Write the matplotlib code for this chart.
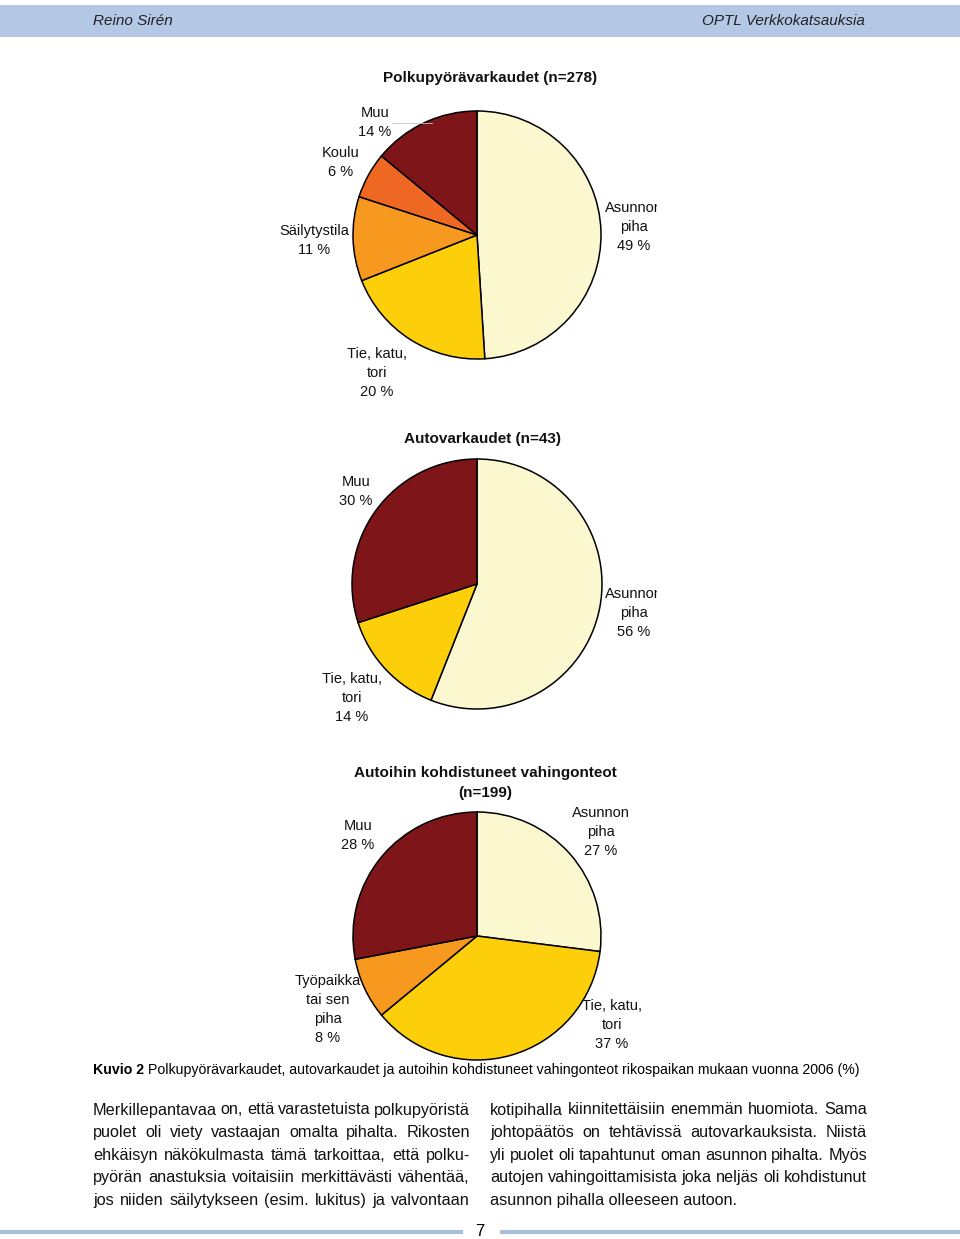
import matplotlib
matplotlib.use("Agg")
import matplotlib.pyplot as plt
from matplotlib.patches import Rectangle
from matplotlib.transforms import Bbox

W, H = 960, 1239

# pie data (clockwise from 12 o'clock)
bike_labels = ["Asunnon piha", "Tie, katu, tori", "Säilytystila", "Koulu", "Muu"]
bike_values = [49, 20, 11, 6, 14]
car_labels = ["Asunnon piha", "Tie, katu, tori", "Muu"]
car_values = [56, 14, 30]
dmg_labels = ["Asunnon piha", "Tie, katu, tori", "Työpaikka tai sen piha", "Muu"]
dmg_values = [27, 37, 8, 28]

colors = {
    "Asunnon piha": "#FBF7CF",
    "Tie, katu, tori": "#FDCF0B",
    "Säilytystila": "#F7991F",
    "Työpaikka tai sen piha": "#F7991F",
    "Koulu": "#EF6823",
    "Muu": "#7E1518",
}

left_text = [
    "Merkillepantavaa on, että varastetuista polkupyöristä",
    "puolet oli viety vastaajan omalta pihalta. Rikosten",
    "ehkäisyn näkökulmasta tämä tarkoittaa, että polku-",
    "pyörän anastuksia voitaisiin merkittävästi vähentää,",
    "jos niiden säilytykseen (esim. lukitus) ja valvontaan",
]
right_text = [
    "kotipihalla kiinnitettäisiin enemmän huomiota. Sama",
    "johtopäätös on tehtävissä autovarkauksista. Niistä",
    "yli puolet oli tapahtunut oman asunnon pihalta. Myös",
    "autojen vahingoittamisista joka neljäs oli kohdistunut",
    "asunnon pihalla olleeseen autoon.",
]

plt.rcParams["font.family"] = ["Liberation Sans", "DejaVu Sans"]

fig = plt.figure(figsize=(W / 100, H / 100), dpi=100)
fig.patch.set_facecolor("white")


def add_pie(cx, cy, r, labels, values):
    box = r * 1.12
    ax = fig.add_axes([(cx - box) / W, (H - cy - box) / H, 2 * box / W, 2 * box / H])
    ax.pie(values, colors=[colors[l] for l in labels], startangle=90,
           counterclock=False, radius=1,
           wedgeprops=dict(edgecolor="black", linewidth=1.1))
    ax.set_xlim(-1.12, 1.12)
    ax.set_ylim(-1.12, 1.12)
    ax.axis("off")
    return ax


add_pie(477, 235, 124, bike_labels, bike_values)
add_pie(477, 584, 125, car_labels, car_values)
add_pie(477, 936, 124, dmg_labels, dmg_values)

ov = fig.add_axes([0, 0, 1, 1])
ov.set_xlim(0, W)
ov.set_ylim(H, 0)
ov.axis("off")
ov.patch.set_alpha(0)

# header bar
ov.add_patch(Rectangle((0, 5), W, 32, facecolor="#B4C8E6", edgecolor="none"))
ov.text(93, 21, "Reino Sirén", style="italic", fontsize=11,
        ha="left", va="center", color="#222222")
ov.text(865, 21, "OPTL Verkkokatsauksia", style="italic", fontsize=11,
        ha="right", va="center", color="#222222")

# footer
ov.add_patch(Rectangle((0, 1230), 463, 4, facecolor="#A8BEDC", edgecolor="none"))
ov.add_patch(Rectangle((500, 1230), 460, 4, facecolor="#A8BEDC", edgecolor="none"))
ov.text(480, 1231, "7", fontsize=12, ha="center", va="center")

# titles
tkw = dict(fontsize=11, fontweight="bold", ha="center", va="center", color="#111111")
ov.text(490, 78, "Polkupyörävarkaudet (n=278)", **tkw)
ov.text(483, 439, "Autovarkaudet (n=43)", **tkw)
ov.text(485, 773, "Autoihin kohdistuneet vahingonteot", **tkw)
ov.text(485, 793, "(n=199)", **tkw)

# pie labels
lkw = dict(fontsize=10.5, ha="center", va="center", color="#111111")


def label(x, y0, lines, clip_x=None):
    for i, s in enumerate(lines):
        t = ov.text(x, y0 + i * 19, s, **lkw)
        if clip_x is not None:
            t.set_clip_on(True)
            t.set_clip_box(Bbox.from_extents(0, 0, clip_x, H))


label(375, 113, ["Muu", f"{bike_values[4]} %"])
label(341, 153, ["Koulu", f"{bike_values[3]} %"])
label(314, 231, ["Säilytystila", f"{bike_values[2]} %"])
label(634, 208, ["Asunnon", "piha", f"{bike_values[0]} %"], clip_x=657)
label(377, 354, ["Tie, katu,", "tori", f"{bike_values[1]} %"])
ov.plot([392, 432], [123, 123], color="#C8C8C8", lw=0.6)

label(356, 482, ["Muu", f"{car_values[2]} %"])
label(634, 594, ["Asunnon", "piha", f"{car_values[0]} %"], clip_x=657)
label(352, 679, ["Tie, katu,", "tori", f"{car_values[1]} %"])

label(358, 826, ["Muu", f"{dmg_values[3]} %"])
label(601, 813, ["Asunnon", "piha", f"{dmg_values[0]} %"])
label(328, 981, ["Työpaikka", "tai sen", "piha", f"{dmg_values[2]} %"])
label(612, 1006, ["Tie, katu,", "tori", f"{dmg_values[1]} %"])

# caption
cap1 = ov.text(93, 1070, "Kuvio 2", fontsize=10.2, fontweight="bold",
               ha="left", va="center")
fig.canvas.draw()
renderer = fig.canvas.get_renderer()
cw = cap1.get_window_extent(renderer).width
ov.text(93 + cw + 4, 1070,
        "Polkupyörävarkaudet, autovarkaudet ja autoihin kohdistuneet vahingonteot "
        "rikospaikan mukaan vuonna 2006 (%)",
        fontsize=10.2, ha="left", va="center")

# body text, justified
bkw = dict(fontsize=11.7, va="center", ha="left", color="#111111")


def justify(lines, x0, x1, y0, last_ragged):
    for i, line in enumerate(lines):
        y = y0 + i * 22.6
        words = line.split(" ")
        if last_ragged and i == len(lines) - 1:
            ov.text(x0, y, line, **bkw)
            continue
        ts = [ov.text(0, y, w, **bkw) for w in words]
        widths = [t.get_window_extent(renderer).width for t in ts]
        gap = (x1 - x0 - sum(widths)) / max(len(words) - 1, 1)
        x = x0
        for t, w in zip(ts, widths):
            t.set_x(x)
            x += w + gap


justify(left_text, 93, 470, 1110, False)
justify(right_text, 490, 867, 1110, True)

fig.savefig("out.png", dpi=100)
